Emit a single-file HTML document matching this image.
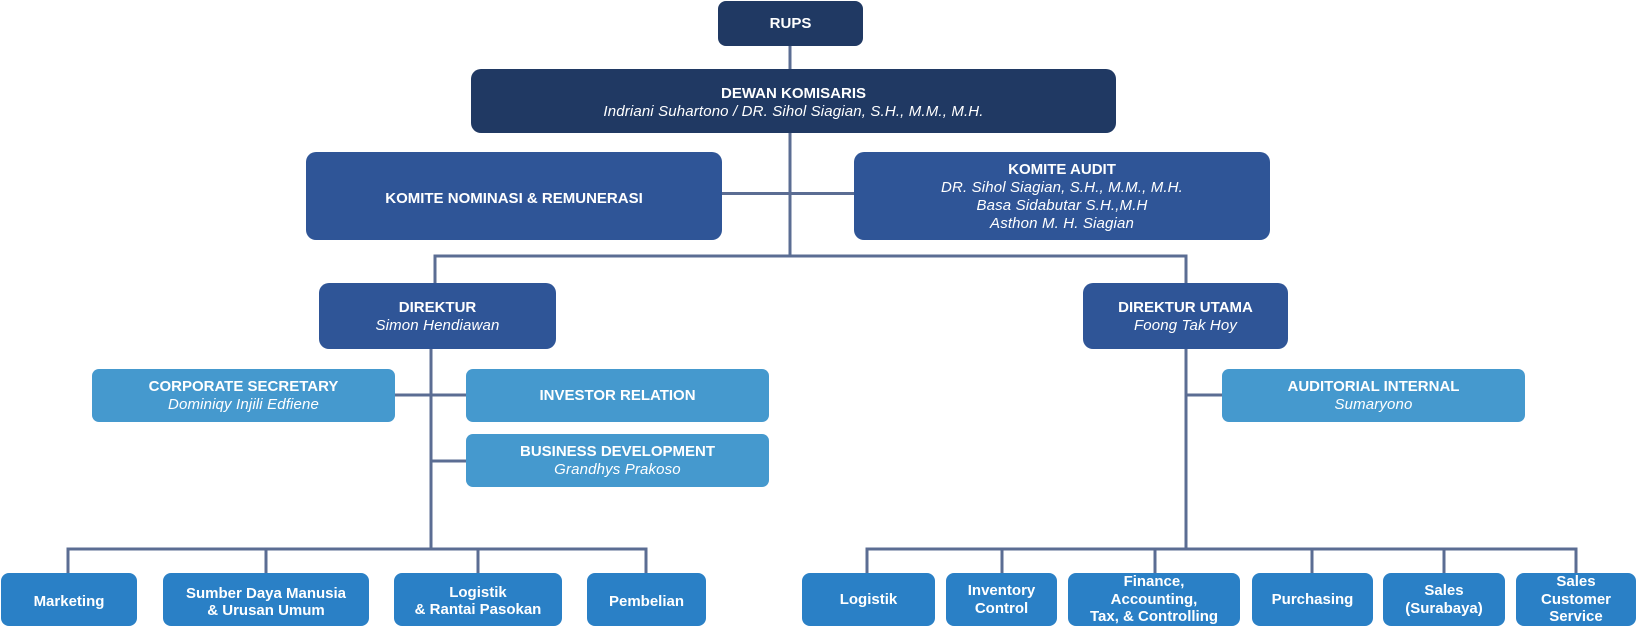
<!DOCTYPE html>
<html>
<head>
<meta charset="utf-8">
<style>
  html,body{margin:0;padding:0;background:#fff;}
  body{width:1638px;height:627px;position:relative;overflow:hidden;font-family:"Liberation Sans",Arial,sans-serif;}
  .b{position:absolute;box-sizing:border-box;display:flex;flex-direction:column;justify-content:center;align-items:center;text-align:center;color:#fff;font-size:15px;line-height:17.5px;border-radius:8px;}
  .d{background:#203963;}
  .m{background:#2f5597;}
  .l{background:#4599ce;border-radius:7px;}
  .u{background:#2a80c6;border-radius:8px;}
  .t{font-weight:bold;}
  .i{font-style:italic;letter-spacing:0.15px;}
  .lo{padding-top:5px;}
  svg{position:absolute;left:0;top:0;}
</style>
</head>
<body>
<svg width="1638" height="627" viewBox="0 0 1638 627">
  <g stroke="#5b6d93" stroke-width="3" fill="none" stroke-linecap="square">
    <line x1="790" y1="46" x2="790" y2="69"/>
    <line x1="790" y1="133" x2="790" y2="256"/>
    <line x1="722" y1="193.5" x2="854" y2="193.5"/>
    <line x1="435" y1="256" x2="1186" y2="256"/>
    <line x1="435" y1="256" x2="435" y2="283"/>
    <line x1="1186" y1="256" x2="1186" y2="283"/>
    <line x1="431" y1="349" x2="431" y2="549"/>
    <line x1="395" y1="395" x2="466" y2="395"/>
    <line x1="431" y1="461" x2="466" y2="461"/>
    <line x1="68" y1="549" x2="646" y2="549"/>
    <line x1="68" y1="549" x2="68" y2="573"/>
    <line x1="266" y1="549" x2="266" y2="573"/>
    <line x1="478" y1="549" x2="478" y2="573"/>
    <line x1="646" y1="549" x2="646" y2="573"/>
    <line x1="1186" y1="349" x2="1186" y2="549"/>
    <line x1="1186" y1="395" x2="1222" y2="395"/>
    <line x1="867" y1="549" x2="1576" y2="549"/>
    <line x1="867" y1="549" x2="867" y2="573"/>
    <line x1="1002" y1="549" x2="1002" y2="573"/>
    <line x1="1155" y1="549" x2="1155" y2="573"/>
    <line x1="1312" y1="549" x2="1312" y2="573"/>
    <line x1="1444" y1="549" x2="1444" y2="573"/>
    <line x1="1576" y1="549" x2="1576" y2="573"/>
  </g>
</svg>

<div class="b d t" style="left:718px;top:1px;width:145px;height:45px;">RUPS</div>

<div class="b d" style="left:471px;top:69px;width:645px;height:64px;border-radius:10px;line-height:18px;padding-top:3px;">
  <div class="t">DEWAN KOMISARIS</div>
  <div class="i">Indriani Suhartono / DR. Sihol Siagian, S.H., M.M., M.H.</div>
</div>

<div class="b m t" style="left:306px;top:152px;width:416px;height:88px;border-radius:10px;padding-top:6px;">KOMITE NOMINASI &amp; REMUNERASI</div>

<div class="b m" style="left:854px;top:152px;width:416px;height:88px;border-radius:10px;line-height:18px;padding-top:2px;">
  <div class="t">KOMITE AUDIT</div>
  <div class="i">DR. Sihol Siagian, S.H., M.M., M.H.</div>
  <div class="i">Basa Sidabutar S.H.,M.H</div>
  <div class="i">Asthon M. H. Siagian</div>
</div>

<div class="b m" style="left:319px;top:283px;width:237px;height:66px;border-radius:10px;line-height:18px;padding-top:1px;">
  <div class="t">DIREKTUR</div>
  <div class="i">Simon Hendiawan</div>
</div>

<div class="b m" style="left:1083px;top:283px;width:205px;height:66px;border-radius:10px;line-height:18px;padding-top:1px;">
  <div class="t">DIREKTUR UTAMA</div>
  <div class="i">Foong Tak Hoy</div>
</div>

<div class="b l" style="left:92px;top:369px;width:303px;height:53px;">
  <div class="t">CORPORATE SECRETARY</div>
  <div class="i">Dominiqy Injili Edfiene</div>
</div>

<div class="b l t" style="left:466px;top:369px;width:303px;height:53px;">INVESTOR RELATION</div>

<div class="b l" style="left:466px;top:434px;width:303px;height:53px;">
  <div class="t">BUSINESS DEVELOPMENT</div>
  <div class="i">Grandhys Prakoso</div>
</div>

<div class="b l" style="left:1222px;top:369px;width:303px;height:53px;">
  <div class="t">AUDITORIAL INTERNAL</div>
  <div class="i">Sumaryono</div>
</div>

<div class="b u t lo" style="left:1px;top:573px;width:136px;height:53px;">Marketing</div>
<div class="b u t lo" style="left:163px;top:573px;width:206px;height:53px;">Sumber Daya Manusia<br>&amp; Urusan Umum</div>
<div class="b u t lo" style="left:394px;top:573px;width:168px;height:53px;padding-top:3px;">Logistik<br>&amp; Rantai Pasokan</div>
<div class="b u t lo" style="left:587px;top:573px;width:119px;height:53px;">Pembelian</div>

<div class="b u t" style="left:802px;top:573px;width:133px;height:53px;">Logistik</div>
<div class="b u t" style="left:946px;top:573px;width:111px;height:53px;">Inventory<br>Control</div>
<div class="b u t" style="left:1068px;top:573px;width:172px;height:53px;">Finance,<br>Accounting,<br>Tax, &amp; Controlling</div>
<div class="b u t" style="left:1252px;top:573px;width:121px;height:53px;">Purchasing</div>
<div class="b u t" style="left:1383px;top:573px;width:122px;height:53px;">Sales<br>(Surabaya)</div>
<div class="b u t" style="left:1516px;top:573px;width:120px;height:53px;">Sales<br>Customer<br>Service</div>
</body>
</html>
